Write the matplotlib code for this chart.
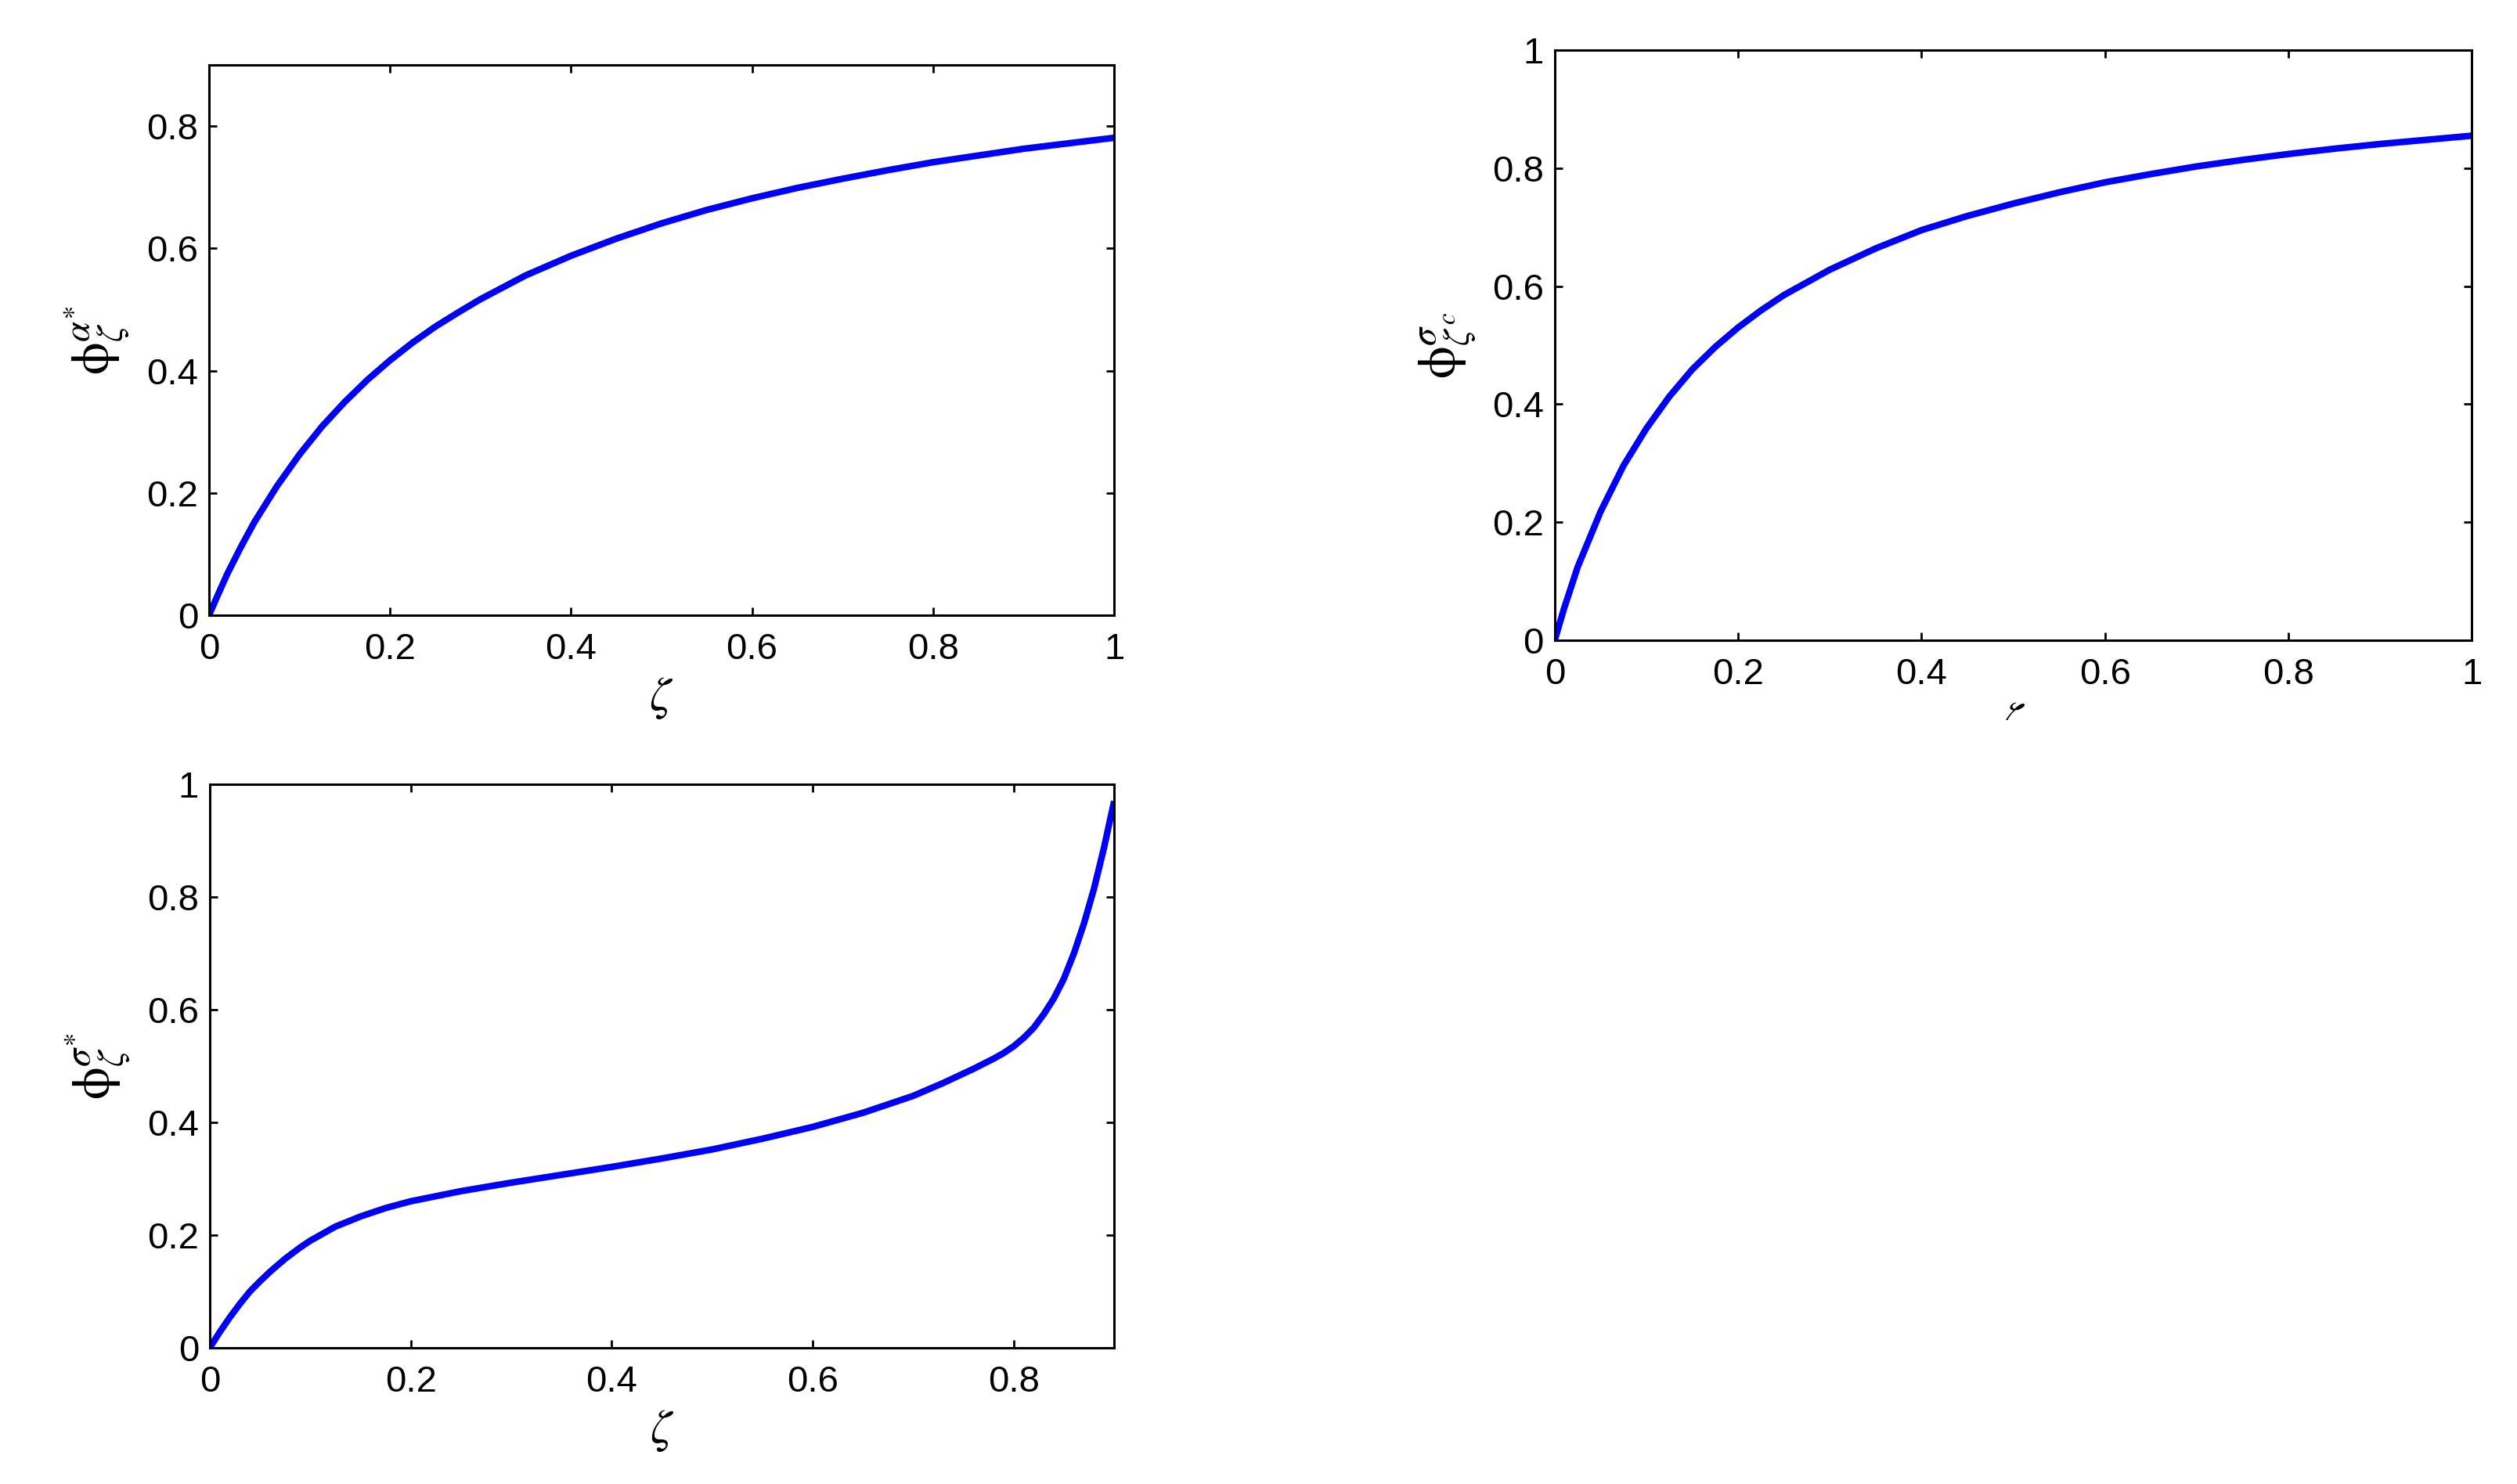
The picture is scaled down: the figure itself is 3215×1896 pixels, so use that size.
import matplotlib
matplotlib.use("Agg")
import matplotlib.pyplot as plt
from matplotlib.ticker import FuncFormatter
from matplotlib.patches import Rectangle

plt.rcParams['font.family'] = ['Liberation Sans', 'DejaVu Sans']
plt.rcParams['mathtext.fontset'] = 'stix'

# top-left panel: phi^alpha*
zeta_a = [0, 0.01, 0.02, 0.035, 0.05, 0.075, 0.1, 0.125, 0.15, 0.175, 0.2, 0.225,
          0.25, 0.275, 0.3, 0.35, 0.4, 0.45, 0.5, 0.55, 0.6, 0.65, 0.7, 0.75, 0.8,
          0.85, 0.9, 0.95, 1.0]
phi_a = [0, 0.034, 0.067, 0.111, 0.152, 0.211, 0.263, 0.309, 0.349, 0.385, 0.417,
         0.446, 0.472, 0.495, 0.517, 0.556, 0.588, 0.616, 0.641, 0.663, 0.682,
         0.699, 0.714, 0.728, 0.741, 0.752, 0.763, 0.772, 0.781]

# top-right panel: phi^sigma at zeta^c
zeta_c = [0, 0.01, 0.025, 0.05, 0.075, 0.1, 0.125, 0.15, 0.175, 0.2, 0.225, 0.25,
          0.3, 0.35, 0.4, 0.45, 0.5, 0.55, 0.6, 0.65, 0.7, 0.75, 0.8, 0.85, 0.9,
          0.95, 1.0]
phi_c = [0, 0.053, 0.124, 0.218, 0.296, 0.359, 0.413, 0.459, 0.497, 0.53, 0.559,
         0.585, 0.628, 0.664, 0.695, 0.719, 0.740, 0.759, 0.776, 0.790, 0.803,
         0.814, 0.824, 0.833, 0.841, 0.848, 0.855]

# bottom-left panel: phi^sigma*
zeta_s = [0, 0.01, 0.02, 0.03, 0.04, 0.05, 0.06, 0.075, 0.09, 0.1, 0.125, 0.15,
          0.175, 0.2, 0.25, 0.3, 0.35, 0.4, 0.45, 0.5, 0.55, 0.6, 0.65, 0.7, 0.73,
          0.76, 0.78, 0.79, 0.8, 0.81, 0.82, 0.83, 0.84, 0.85, 0.86, 0.87, 0.88,
          0.89, 0.9]
phi_s = [0, 0.028, 0.054, 0.078, 0.1, 0.118, 0.135, 0.158, 0.178, 0.19, 0.215,
         0.233, 0.248, 0.26, 0.278, 0.293, 0.307, 0.321, 0.336, 0.352, 0.371,
         0.392, 0.417, 0.447, 0.47, 0.495, 0.513, 0.523, 0.535, 0.55, 0.568,
         0.592, 0.62, 0.655, 0.70, 0.753, 0.815, 0.888, 0.97]

xticks_a = [0, 0.2, 0.4, 0.6, 0.8, 1]
yticks_a = [0, 0.2, 0.4, 0.6, 0.8]
yticks_c = [0, 0.2, 0.4, 0.6, 0.8, 1]
xticks_s = [0, 0.2, 0.4, 0.6, 0.8]

fmt = FuncFormatter(lambda v, p: '%g' % round(v, 6))

fig = plt.figure(figsize=(16.08, 9.48), dpi=200)

def make_axes(rect, x, y, xlim, ylim, xt, yt, ylab):
    ax = fig.add_axes(rect)
    ax.plot(x, y, color='#0000ff', lw=3.0, solid_capstyle='butt')
    ax.set_xlim(*xlim)
    ax.set_ylim(*ylim)
    ax.set_xticks(xt)
    ax.set_yticks(yt)
    ax.xaxis.set_major_formatter(fmt)
    ax.yaxis.set_major_formatter(fmt)
    ax.tick_params(direction='in', top=True, right=True, length=3.6, width=1,
                   labelsize=17)
    ax.tick_params(axis='x', pad=8)
    ax.tick_params(axis='y', pad=5)
    for s in ax.spines.values():
        s.set_linewidth(1.1)
    ax.set_ylabel(ylab, fontsize=24, labelpad=7)
    return ax

ax1 = make_axes([0.0830, 0.5854, 0.3595, 0.3708], zeta_a, phi_a, (0, 1), (0, 0.9),
                xticks_a, yticks_a, r'$\mathrm{\phi}^{\alpha^{\ast}}_{\zeta}$')
ax1.set_xlabel(r'$\zeta$', fontsize=22, labelpad=4)

ax2 = make_axes([0.6175, 0.5686, 0.3642, 0.3976], zeta_c, phi_c, (0, 1), (0, 1),
                xticks_a, yticks_c, r'$\mathrm{\phi}^{\sigma}_{\zeta^{c}}$')
ax2.set_xlabel(r'$\zeta$', fontsize=22, labelpad=4)
# the reference only shows the top of this label: mask the rest
fig.add_artist(Rectangle((0.74, 0.40), 0.12, 0.1148, transform=fig.transFigure,
                         facecolor='white', edgecolor='none', zorder=10))

ax3 = make_axes([0.0833, 0.0918, 0.3592, 0.3797], zeta_s, phi_s, (0, 0.9), (0, 1),
                xticks_s, yticks_c, r'$\mathrm{\phi}^{\sigma^{\ast}}_{\zeta}$')
ax3.set_xlabel(r'$\zeta$', fontsize=22, labelpad=4)

fig.savefig('out.png', dpi=200)
